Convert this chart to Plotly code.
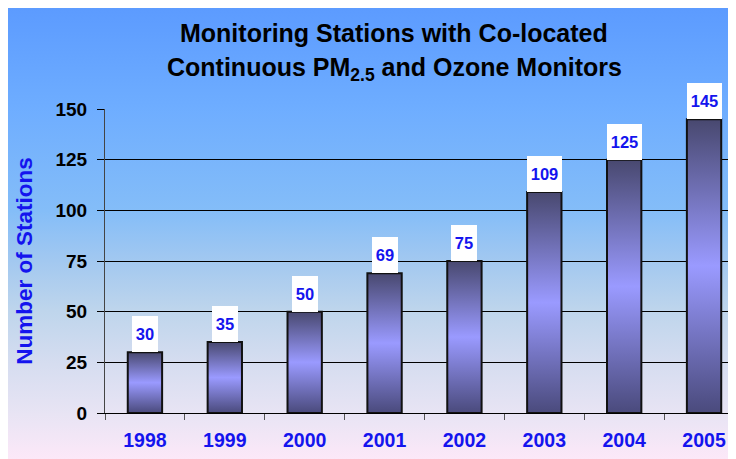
import base64
import plotly.graph_objects as go

# ---- data ----
years = ["1998", "1999", "2000", "2001", "2002", "2003", "2004", "2005"]
stations = [30, 35, 50, 69, 75, 109, 125, 145]
y_ticks = [0, 25, 50, 75, 100, 125, 150]
title_line1 = "Monitoring Stations with Co-located"
title_line2 = "Continuous PM<sub>2.5</sub> and Ozone Monitors"
y_title = "Number of Stations"

# ---- layout geometry (figure pixels; page body adds an 8px offset) ----
W, H = 728, 451
L, R, T, B = 97, 728, 101, 405
X_RANGE = [-0.5, 7.4]
BAR_HALF = 0.215
FONT = "Liberation Sans, Arial, sans-serif"
BLUE = "#1414ee"


def px_x(px):
    return (px - L) / (R - L)


def px_y(py):
    return (B - py) / (B - T)


fig = go.Figure()

# invisible trace to drive the category axis
fig.add_trace(go.Scatter(x=years, y=stations, mode="markers",
                         marker=dict(opacity=0), hoverinfo="skip",
                         showlegend=False))

# bars with vertical gradient fill
for i, v in enumerate(stations):
    fig.add_trace(go.Scatter(
        x=[i - BAR_HALF, i + BAR_HALF, i + BAR_HALF, i - BAR_HALF, i - BAR_HALF],
        y=[0, 0, v, v, 0],
        xaxis="x2", mode="lines", fill="toself",
        fillgradient=dict(type="vertical",
                          colorscale=[[0, "#4a4a7c"], [0.5, "#9a9aff"], [1, "#48486f"]]),
        line=dict(color="#111111", width=2),
        hoverinfo="skip", showlegend=False))

annotations = []
for i, v in enumerate(stations):
    txt = str(v)
    annotations.append(dict(
        xref="x2", yref="y", x=i, y=v, xanchor="center", yanchor="bottom",
        text=txt, showarrow=False, bgcolor="white",
        width=8 + 9 * len(txt), height=36, borderpad=0, borderwidth=0,
        font=dict(family=FONT, size=16.5, color=BLUE, weight="bold")))

annotations.append(dict(xref="paper", yref="paper", x=px_x(386), y=px_y(25),
                        xanchor="center", yanchor="middle", showarrow=False,
                        text=title_line1,
                        font=dict(family=FONT, size=25, color="black", weight="bold")))
annotations.append(dict(xref="paper", yref="paper", x=px_x(386), y=px_y(61),
                        xanchor="center", yanchor="middle", showarrow=False,
                        text=title_line2,
                        font=dict(family=FONT, size=25, color="black", weight="bold")))

# background gradient over the whole figure
stops = [(0, "#5c9bff"), (0.22, "#6eadff"), (0.45, "#84bdf8"), (0.56, "#a2c8f0"),
         (0.67, "#bed5ec"), (0.79, "#d6ddf0"), (0.90, "#e8e4f4"), (1, "#fce8f8")]
svg = ('<svg xmlns="http://www.w3.org/2000/svg" width="10" height="100" '
       'viewBox="0 0 10 100" preserveAspectRatio="none"><defs>'
       '<linearGradient id="g" x1="0" y1="0" x2="0" y2="1">'
       + "".join(f'<stop offset="{o}" stop-color="{c}"/>' for o, c in stops)
       + '</linearGradient></defs><rect width="10" height="100" fill="url(#g)"/></svg>')
src = "data:image/svg+xml;base64," + base64.b64encode(svg.encode()).decode()

fig.update_layout(
    width=W, height=H,
    margin=dict(l=L, r=W - R, t=T, b=H - B, pad=0),
    paper_bgcolor="white", plot_bgcolor="rgba(0,0,0,0)",
    images=[dict(source=src, xref="paper", yref="paper",
                 x=px_x(0), y=px_y(0),
                 sizex=px_x(W) - px_x(0), sizey=px_y(0) - px_y(H),
                 xanchor="left", yanchor="top", sizing="stretch", layer="below")],
    annotations=annotations,
    xaxis=dict(type="category", categoryorder="array", categoryarray=years,
               range=X_RANGE, tickson="boundaries", ticks="outside", ticklen=6,
               tickcolor="#555555", showline=True, linecolor="black", linewidth=1,
               showgrid=False, zeroline=False, ticklabelstandoff=10,
               tickfont=dict(family=FONT, size=19.5, color=BLUE, weight="bold")),
    xaxis2=dict(overlaying="x", range=X_RANGE, visible=False),
    yaxis=dict(range=[0, 150], tickvals=y_ticks, ticks="outside", ticklen=7,
               tickcolor="black", showline=True, linecolor="#444444", linewidth=1,
               showgrid=True, gridcolor="black", gridwidth=1, zeroline=False,
               ticklabelstandoff=6,
               tickfont=dict(family=FONT, size=19, color="black", weight="bold"),
               title=dict(text=y_title, standoff=16,
                          font=dict(family=FONT, size=22.5, color=BLUE, weight="bold"))),
)

fig.write_html("out.html")
